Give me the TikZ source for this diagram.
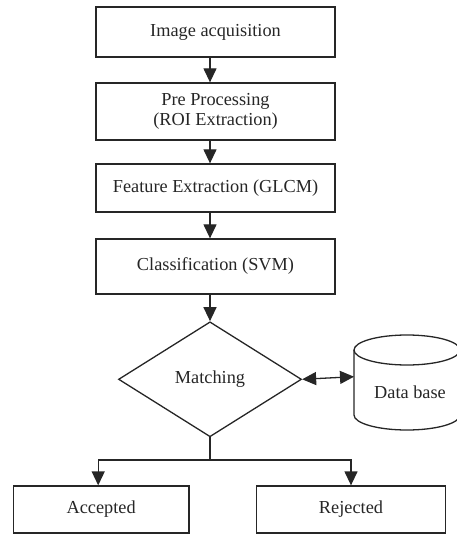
\documentclass[tikz,border=0pt]{standalone}
\usepackage{fontspec}
\setmainfont{Liberation Serif}
\usetikzlibrary{shapes.geometric,arrows.meta}
\begin{document}
\begin{tikzpicture}[x=1pt,y=1pt,
  every node/.style={font=\fontsize{18.3}{20.5}\selectfont, text=black!85},
  stepbox/.style={draw=black!85, line width=1.3pt, rectangle, inner sep=0pt, align=center},
  decide/.style={draw=black!85, line width=1.3pt, diamond, inner sep=0pt, minimum width=183pt, minimum height=115pt},
  arr/.style={draw=black!85, line width=1.3pt, -{Triangle[length=14pt,width=13pt]}},
  darr/.style={draw=black!85, line width=1.3pt, {Triangle[length=14pt,width=13pt]}-{Triangle[length=14pt,width=13pt]}},
  ln/.style={draw=black!85, line width=1.3pt}]
\useasboundingbox (0,0) rectangle (456,-534);
\node[stepbox, minimum width=239pt, minimum height=50pt] (b1) at (215.5,-32) {Image acquisition};
\node[stepbox, minimum width=239pt, minimum height=57pt] (b2) at (215.5,-111.5) {Pre Processing\\(ROI Extraction)};
\node[stepbox, minimum width=239pt, minimum height=48pt] (b3) at (215.5,-188) {Feature Extraction (GLCM)};
\node[stepbox, minimum width=239pt, minimum height=55pt] (b4) at (215.5,-266.5) {Classification (SVM)};
\node[decide] (d) at (210,-379.3) {Matching};
\node[stepbox, minimum width=175.7pt, minimum height=47pt] (acc) at (101.2,-509.5) {Accepted};
\node[stepbox, minimum width=188.6pt, minimum height=47pt] (rej) at (351,-509.5) {Rejected};
% data base cylinder
\draw[ln] (354,-350) -- (354,-415) arc[start angle=180,end angle=360,x radius=53,y radius=15] -- (460,-350);
\draw[ln] (407,-350) ellipse[x radius=53,y radius=15];
\node (db) at (410,-392.7) {Data base};
\coordinate (dbl) at (354,-376.7);
% connectors
\draw[arr] (b1.south -| d.north) -- (b2.north -| d.north);
\draw[arr] (b2.south -| d.north) -- (b3.north -| d.north);
\draw[arr] (b3.south -| d.north) -- (b4.north -| d.north);
\draw[arr] (b4.south -| d.north) -- (d.north);
\draw[darr] (d.east) -- (dbl);
\coordinate (j) at (210,-460);
\draw[ln] (d.south) -- (j);
\draw[arr] (j) -| ([xshift=-3pt]acc.north);
\draw[arr] (j) -| (rej.north);
\end{tikzpicture}
\end{document}
